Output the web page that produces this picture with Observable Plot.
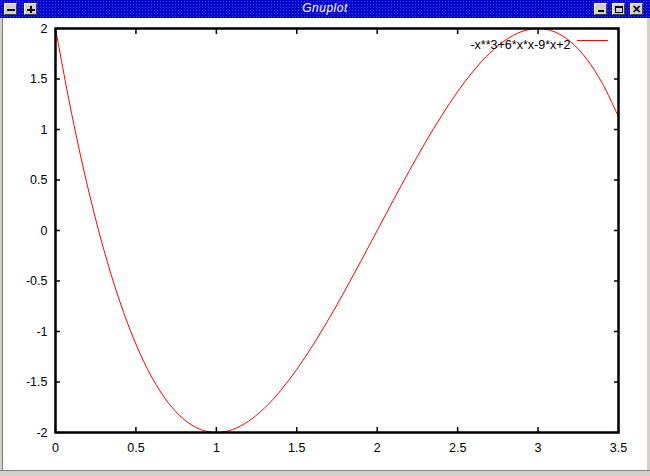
<!DOCTYPE html>
<html>
<head>
<meta charset="utf-8">
<script src="https://cdn.jsdelivr.net/npm/d3@7"></script>
<script src="https://cdn.jsdelivr.net/npm/@observablehq/plot@0.6"></script>
<style>
  html, body { margin: 0; padding: 0; background: #fff; }
  #win { position: relative; width: 650px; height: 476px; background: #fff; overflow: hidden; font-family: "Liberation Sans", Arial, sans-serif; }
  #title { position: absolute; left: 0; top: 0; width: 650px; height: 18px;
    background-color: #0808c8;
    background-image: radial-gradient(circle, #3c3cf0 0.8px, transparent 1px);
    background-size: 3px 3px; }
  #title .t { position: absolute; left: 0; width: 650px; top: 1px; text-align: center; color: #fff; font-style: italic; font-size: 12px; letter-spacing: 0.5px; }
  .btn { position: absolute; top: 3px; width: 13px; height: 12px; background: #d4d0c8; border-top: 1px solid #fff; border-left: 1px solid #fff; border-right: 1px solid #404040; border-bottom: 1px solid #404040; box-sizing: border-box; }
  .btn i { position: absolute; background: #000; }
  #lb { position: absolute; left: 0; top: 18px; width: 2px; height: 458px; background: #d4d0c8; border-right: 1px solid #808080; }
  #rb { position: absolute; right: 0; top: 18px; width: 3px; height: 458px; background: #d4d0c8; border-left: 1px solid #ffffff; }
  #bb { position: absolute; left: 0; top: 470px; width: 650px; height: 6px; background: #d4d0c8; border-top: 1px solid #808080; }
  #plot { position: absolute; left: 0; top: 18px; }
</style>
</head>
<body>
<div id="win">
  <div id="title"><div class="t">Gnuplot</div>
    <div class="btn" style="left:4px"><i style="left:2px;top:5px;width:8px;height:2px"></i></div>
    <div class="btn" style="left:24px"><i style="left:2px;top:5px;width:8px;height:2px"></i><i style="left:5px;top:2px;width:2px;height:7px"></i></div>
    <div class="btn" style="left:594px"><i style="left:3px;top:6px;width:6px;height:2px"></i></div>
    <div class="btn" style="left:612px"><i style="left:2px;top:2px;width:8px;height:7px;background:transparent;border:1px solid #000;border-top-width:2px;box-sizing:border-box"></i></div>
    <div class="btn" style="left:630px;font-weight:bold;font-size:11px;line-height:10px;text-align:center">✕</div>
  </div>
  <div id="lb"></div>
  <div id="rb"></div>
  <div id="bb"></div>
  <div id="plot"></div>
</div>
<script>
const xs = [0, 0.1, 0.2, 0.3, 0.4, 0.5, 0.6, 0.7, 0.8, 0.9, 1.0, 1.1, 1.2, 1.3, 1.4, 1.5, 1.6, 1.7, 1.8, 1.9, 2.0,
            2.1, 2.2, 2.3, 2.4, 2.5, 2.6, 2.7, 2.8, 2.9, 3.0, 3.1, 3.2, 3.3, 3.4, 3.5];
const ys = [2, 1.159, 0.432, -0.187, -0.704, -1.125, -1.456, -1.703, -1.872, -1.969, -2, -1.971, -1.888, -1.757, -1.584,
            -1.375, -1.136, -0.873, -0.592, -0.299, 0, 0.299, 0.592, 0.873, 1.136, 1.375, 1.584, 1.757, 1.888, 1.971, 2,
            1.969, 1.872, 1.703, 1.456, 1.125];
const xTicks = [0, 0.5, 1, 1.5, 2, 2.5, 3, 3.5];
const yTicks = [-2, -1.5, -1, -0.5, 0, 0.5, 1, 1.5, 2];
const legendLabel = "-x**3+6*x*x-9*x+2";

const data = xs.map((x, i) => ({x, y: ys[i]}));
const fmt = d => String(d);
const lineShape = {draw(ctx, l) { ctx.moveTo(0, 0); ctx.lineTo(0, -l); }};

const chart = Plot.plot({
  width: 650,
  height: 452,
  marginLeft: 55,
  marginRight: 32,
  marginTop: 10,
  marginBottom: 38,
  style: {fontFamily: "'Liberation Sans', Arial, sans-serif", fontSize: "12.5px", background: "transparent", color: "#000"},
  x: {domain: [0, 3.5]},
  y: {domain: [-2, 2]},
  marks: [
    Plot.line(data, {x: "x", y: "y", stroke: "#ff0000", strokeWidth: 1, curve: "catmull-rom"}),
    Plot.axisX(xTicks, {anchor: "bottom", tickSize: -5, tickPadding: 16, tickFormat: fmt, label: null, strokeWidth: 1.5}),
    Plot.axisX(xTicks, {anchor: "top", tickSize: -5, tickFormat: () => "", label: null, strokeWidth: 1.5}),
    Plot.axisY(yTicks, {anchor: "left", tickSize: -5, tickPadding: 13, tickFormat: fmt, label: null, strokeWidth: 1.5}),
    Plot.axisY(yTicks, {anchor: "right", tickSize: -5, tickFormat: () => "", label: null, strokeWidth: 1.5}),
    Plot.frame({stroke: "#000", strokeWidth: 2.5}),
    Plot.text([legendLabel], {frameAnchor: "top-right", dx: -48, dy: 12, textAnchor: "end", fill: "#000"}),
    Plot.vector([0], {frameAnchor: "top-right", dx: -41, dy: 12, length: 30, rotate: 90, anchor: "start", shape: lineShape, stroke: "#ff0000", strokeWidth: 1})
  ]
});
document.getElementById("plot").appendChild(chart);
</script>
</body>
</html>
